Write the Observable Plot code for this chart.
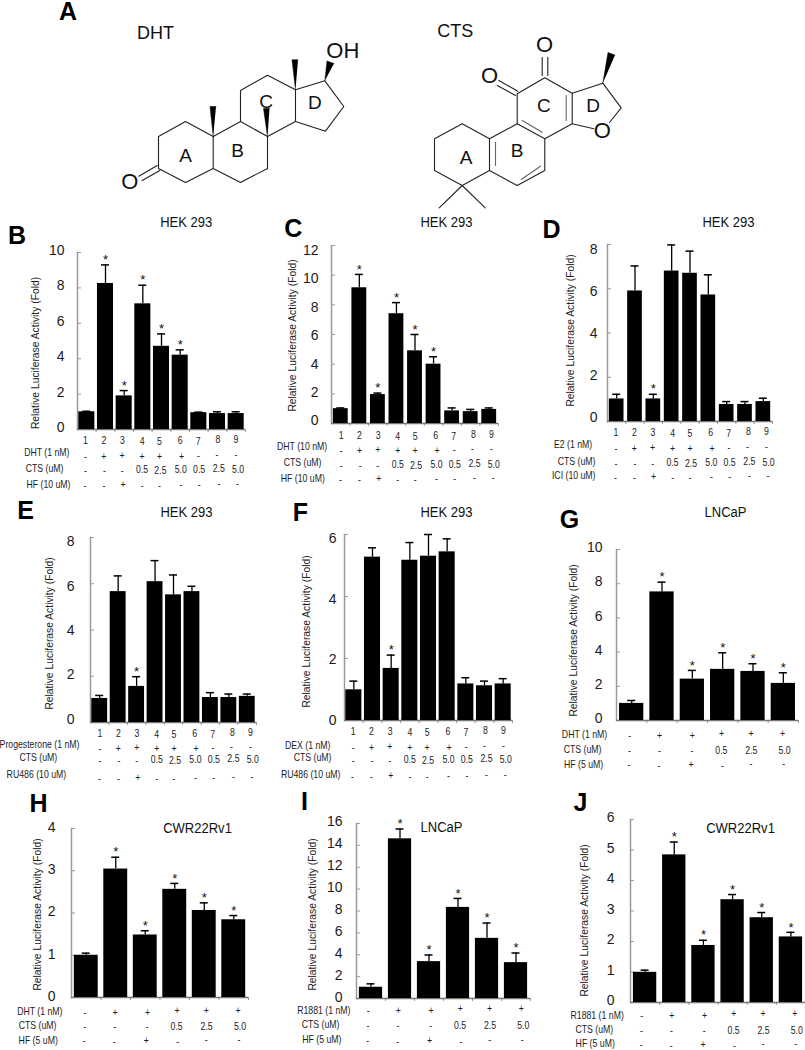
<!DOCTYPE html>
<html><head><meta charset="utf-8">
<script src="https://cdn.jsdelivr.net/npm/d3@7"></script>
<script src="https://cdn.jsdelivr.net/npm/@observablehq/plot@0.6"></script>
<style>
html,body{margin:0;padding:0;background:#fff}
#page{position:relative;width:805px;height:1050px;overflow:hidden}
#page svg{position:absolute}
</style></head><body><div id="page"></div>
<script>
// ---------- data ----------
const barsB = [1, 8.25, 1.9, 7.1, 4.7, 4.2, 0.95, 0.9, 0.9];
const errsB = [1.03, 9.3, 2.2, 8.15, 5.4, 4.5, 0.98, 1.0, 1.0];
const barsC = [1, 9.15, 1.95, 7.4, 4.9, 4.0, 0.85, 0.8, 0.95];
const errsC = [1.05, 10.05, 2.05, 8.15, 6.0, 4.5, 1.05, 0.95, 1.05];
const barsD = [1.02, 5.9, 1.02, 6.8, 6.7, 5.72, 0.77, 0.77, 0.9];
const errsD = [1.23, 7.03, 1.23, 7.98, 7.7, 6.63, 0.9, 0.9, 1.05];
const barsE = [1.04, 5.66, 1.56, 6.09, 5.52, 5.66, 1.08, 1.08, 1.13];
const errsE = [1.17, 6.34, 1.98, 7.0, 6.38, 5.89, 1.29, 1.23, 1.23];
const barsF = [0.99, 5.27, 1.68, 5.17, 5.3, 5.44, 1.18, 1.12, 1.18];
const errsF = [1.27, 5.57, 2.11, 5.74, 6.0, 5.86, 1.38, 1.27, 1.35];
const barsG = [1.0, 7.52, 2.42, 2.99, 2.87, 2.17];
const errsG = [1.17, 8.09, 2.93, 3.96, 3.32, 2.79];
const barsH = [1.0, 3.04, 1.48, 2.56, 2.06, 1.84];
const errsH = [1.05, 3.32, 1.58, 2.7, 2.24, 1.94];
const barsI = [1.03, 14.6, 3.37, 8.33, 5.5, 3.28];
const errsI = [1.34, 15.5, 3.98, 9.15, 6.9, 4.16];
const barsJ = [0.99, 4.84, 1.87, 3.37, 2.78, 2.15];
const errsJ = [1.06, 5.26, 2.04, 3.54, 2.95, 2.3];

const numbers9 = ["1","2","3","4","5","6","7","8","9"];
const agonist9 = ["-","+","+","+","+","+","-","-","-"];
const cts9 = ["-","-","-","0.5","2.5","5.0","0.5","2.5","5.0"];
const anti9 = ["-","-","+","-","-","-","-","-","-"];
const agonist6 = ["-","+","+","+","+","+"];
const cts6 = ["-","-","-","0.5","2.5","5.0"];
const anti6 = ["-","-","+","-","-","-"];
const yLabel = "Relative Luciferase Activity (Fold)";

const panels = [
 {bars:barsB,errs:errsB,left:0,axisX:77,right:245,y0:429,yTop:252,yMax:10,step:2,stars:[2,3,4,5,6],pad:.14,
  names:["DHT (1 nM)","CTS (uM)","HF (10 uM)"],nameR:[69,63,70],nameY:[23,39.5,55],cellY:[26,40.5,55],numY:10.7,colStart:-1.7,
  lab:[-13,-2.3,-1.7],yl:[35,352.5]},
 {bars:barsC,errs:errsC,left:265,axisX:331,right:498,y0:423,yTop:245,yMax:12,step:2,stars:[2,3,4,5,6],pad:.2,
  names:["DHT (10 nM)","CTS (uM)","HF (10 uM)"],nameR:[326.7,321,324.3],nameY:[23.3,39,55],cellY:[26,40.7,55],numY:11.7,colStart:0,
  lab:[-13,5,-2.7],yl:[292,335]},
 {bars:barsD,errs:errsD,left:535,axisX:607,right:772,y0:421,yTop:244,yMax:8,step:2,stars:[3],pad:.2,
  names:["E2 (1 nM)","CTS (uM)","ICI (10 uM)"],nameR:[591.7,595,595],nameY:[23,40,54],cellY:[26,41.3,55],numY:11,colStart:-1,
  lab:[-10,5,-4],yl:[570,330]},
 {bars:barsE,errs:errsE,left:0,axisX:90,right:256,y0:722,yTop:537,yMax:8,step:2,stars:[3],pad:.14,
  names:["Progesterone (1 nM)","CTS (uM)","RU486 (10 uM)"],nameR:[79,56.7,65.7],nameY:[22,35,52.3],cellY:[24.7,37.3,54.7],numY:10.7,colStart:0,
  lab:[-16,4.3,-3.3],yl:[49,633]},
 {bars:barsF,errs:errsF,left:265,axisX:344,right:512,y0:720,yTop:534,yMax:6,step:2,stars:[3],pad:.14,
  names:["DEX (1 nM)","CTS (uM)","RU486 (10 uM)"],nameR:[330,331,340],nameY:[25,36.7,54.3],cellY:[25.7,39.3,55],numY:10.7,colStart:-1,
  lab:[-8,4,0],yl:[306,631]},
 {bars:barsG,errs:errsG,left:535,axisX:616,right:798,y0:720,yTop:549,yMax:10,step:2,stars:[2,3,4,5,6],pad:.2,
  names:["DHT (1 nM)","CTS (uM)","HF (5 uM)"],nameR:[606.7,601,602.7],nameY:[14.3,29,44.3],cellY:[14.3,30,44],colStart:-2,
  lab:[-14,-1.7,-1.7],yl:[573,640]},
 {bars:barsH,errs:errsH,left:0,axisX:71,right:248,y0:997,yTop:828,yMax:4,step:1,stars:[2,3,4,5,6],pad:.19,
  names:["DHT (1 nM)","CTS (uM)","HF (5 uM)"],nameR:[62,56,57.3],nameY:[14,28.3,43.3],cellY:[14,29,43],colStart:-1.3,
  lab:[-16,-1,-1],yl:[37,914]},
 {bars:barsI,errs:errsI,left:265,axisX:356,right:530,y0:998,yTop:823,yMax:16,step:2,stars:[2,3,4,5,6],pad:.2,
  names:["R1881 (1 nM)","CTS (uM)","HF (5 uM)"],nameR:[350,339,341],nameY:[11.7,26,41.3],cellY:[11.5,27,42],colStart:-2.7,
  lab:[-14,-1.7,-1.3],yl:[312,914]},
 {bars:barsJ,errs:errsJ,left:535,axisX:630,right:805,y0:1002,yTop:819,yMax:6,step:1,stars:[2,3,4,5,6],pad:.2,
  names:["R1881 (1 nM)","CTS (uM)","HF (5 uM)"],nameR:[623.3,612.7,614.3],nameY:[12.7,26.7,41.5],cellY:[12,27.7,41.7],colStart:-3.3,
  lab:[-16,-1.7,-1.7],yl:[584,920]}
];

// column layout of the hand-placed treatment tables, px from first bar centre
const col9 = [[.3,18.7,37.3,57,74.3,95,113,132.7,150.7],[.3,18.7,37,57,74.3,96.3,113.3,131.7,150.7],
              [.3,19.3,37,57,75.3,95.7,114,133.7,153],[-.3,18.7,38,57,74.3,95.7,114,133.7,152.3]];
const jit9 = [[0,0,0,1,1,0,1,-1,-1],[1,1,0,1,1,1,0,-1,-1],[1,1,1,0,1,0,0,-1,0],[1,1,0,1,1,0,0,-1,-1]];
const col6 = [[0,30,62.7,92,121.3,153],[-.3,29.7,62.3,91.7,121.7,155],[-.7,29.3,61.3,92.7,121.3,154]];
const jit6 = [[1,1,1,-1,-1,-1],[0,0,0,0,0,0],[0,1,0,1,-1,-1]];

const FONT = "'Liberation Sans', Arial, sans-serif";
const GREY = "#9a9a9a", INK = "#1c1c1c";
const page = document.getElementById("page");

// the reference's small labels are horizontally squeezed
function squeeze(root, cls, factor) {
  root.querySelectorAll("." + cls + " text").forEach(t => {
    t.setAttribute("textLength", (t.getComputedTextLength() * factor).toFixed(2));
    t.setAttribute("lengthAdjust", "spacingAndGlyphs");
  });
}

// ---------- one Plot per bar panel ----------
for (const p of panels) {
  const n = p.bars.length, cats = d3.range(1, n + 1).map(String);
  const rows = n === 9 ? [numbers9, agonist9, cts9, anti9] : [agonist6, cts6, anti6];
  const cols = n === 9 ? col9 : col6, jits = n === 9 ? jit9 : jit6;
  const W = p.right - p.axisX, H = p.y0 - p.yTop, mT = 22, mB = Math.min(68, 1050 - p.y0), stepX = W / n, bw = stepX * (1 - p.pad);
  const unit = H / p.yMax;
  const data = cats.map((c, i) => ({c, v: p.bars[i], e: p.errs[i]}));
  const ticks = d3.range(0, p.yMax + 1e-6, p.step);
  const capInset = Math.max(0, (bw - 8) / 2);
  const rowYs = n === 9 ? [p.numY, ...p.cellY] : p.cellY;
  const cellMarks = rows.flatMap((row, r) => row.map((t, i) => Plot.text([{c: cats[i], t}], {
    x: "c", y: () => 0, text: "t", fontFamily: FONT, fontSize: 10.5, fill: INK, className: "squeezed",
    dx: p.colStart + cols[r][i] - i * stepX, dy: rowYs[r] + jits[r][i]
  })));
  const nameMarks = p.names.map((t, r) => Plot.text([t], {
    frameAnchor: "left", y: () => 0, text: d => d, textAnchor: "end", fontFamily: FONT, fontSize: 10.5, fill: INK, className: "squeezed",
    dx: p.nameR[r] - p.axisX, dy: p.nameY[r]
  }));
  const svg = Plot.plot({
    width: 270, height: H + mT + mB,
    marginLeft: p.axisX - p.left, marginRight: 270 - (p.right - p.left), marginTop: mT, marginBottom: mB,
    style: {background: "transparent", overflow: "visible"},
    x: {type: "band", domain: cats, axis: null, paddingInner: p.pad, paddingOuter: p.pad / 2, round: false, align: .5},
    y: {domain: [0, p.yMax], axis: null},
    marks: [
      Plot.frame({anchor: "left", stroke: GREY, strokeWidth: 1.5}),
      Plot.ruleY(ticks, {stroke: GREY, strokeWidth: 1, insetRight: W - 4}),
      Plot.ruleX(cats, {x: d => d, y1: () => 0, y2: () => -3 / unit, dx: stepX / 2, stroke: GREY, strokeWidth: 1}),
      Plot.ruleY([0], {stroke: "#777", strokeWidth: 1.5}),
      Plot.ruleX(data, {x: "c", y1: "v", y2: "e", stroke: "#000", strokeWidth: 1.3}),
      Plot.tickY(data, {x: "c", y: "e", stroke: "#000", strokeWidth: 1.5, insetLeft: capInset, insetRight: capInset}),
      Plot.barY(data, {x: "c", y: "v", fill: "#000"}),
      Plot.text(data.filter((d, i) => p.stars.includes(i + 1)), {x: "c", y: "e", text: () => "*", dy: -5, fontSize: 13, fontFamily: FONT, fill: "#111"}),
      Plot.text(ticks, {
        frameAnchor: "left", y: t => t - (p.lab[2] + (p.lab[1] - p.lab[2]) * t / p.yMax) / unit, text: d => String(d),
        textAnchor: "end", dx: p.lab[0], fontSize: 14, fontFamily: FONT, fill: INK
      }),
      Plot.text([yLabel], {
        frameAnchor: "left", textAnchor: "middle", text: d => d, rotate: -90, fontSize: 10.3, fontFamily: FONT, fill: "#222",
        dx: p.yl[0] - p.axisX, dy: p.yl[1] - (p.y0 + p.yTop) / 2
      }),
      ...cellMarks, ...nameMarks
    ]
  });
  svg.style.left = p.left + "px";
  svg.style.top = (p.yTop - mT) + "px";
  page.appendChild(svg);
  squeeze(svg, "squeezed", 0.83);
}

// ---------- panel letters, cell-line titles, molecules ----------
const letters = [["A",67.5,11],["B",16.5,235],["C",292.7,228],["D",551,229],["E",25,510],["F",300,512],["G",569,519],["H",38,803],["I",304,801],["J",580,802]];
const titles = [["HEK 293",185.7,222],["HEK 293",446,222],["HEK 293",728,222],["HEK 293",186,512],["HEK 293",446,512],["LNCaP",725,512],["CWR22Rv1",197,828],["LNCaP",441,827],["CWR22Rv1",740,828]];
const chemLabels = [["DHT",155,33,18],["CTS",454.7,31,18],
 ["A",185,155,19],["B",237,150.7,19],["C",265.7,101,19],["D",314.3,102.7,19],["O",129.3,181.7,22],["OH",342.3,50,22],
 ["A",465.7,157.3,19],["B",516.7,150.7,19],["C",543.3,105.3,19],["D",592.7,105.3,19],["O",489,75.7,22],["O",544,44.3,22],["O",601.7,130.7,22]];
const bondPaths = [
 // DHT
 [[158,168],[158,136],[185,121],[212.7,136],[212.7,168],[185,182],[158,168]],
 [[212.7,136],[240,121],[267,136],[267,168],[240,182],[212.7,168]],
 [[240,121],[240,90],[267,74.7],[295,89.3],[295,121],[267,136]],
 [[295,89.3],[324.3,80.3],[343.3,106],[325,130.7],[295,121]],
 [[159.3,170],[141.7,180]],[[156.7,165],[138.3,175.7]],
 // CTS
 [[461.7,123.3],[434,138.3],[434,170],[461.7,185],[489,170],[489,138.3],[461.7,123.3]],
 [[489,138.3],[516.7,123.3],[544.3,138.3],[544.3,170],[516.7,185],[489,170]],
 [[516.7,123.3],[516.7,93.3],[544.3,77.3],[571.7,92.7],[571.7,123.3],[544.3,138.3]],
 [[571.7,92.7],[602.3,82.7],[620.7,107.3],[609,122]],
 [[571.7,123.3],[593.3,128.3]],
 [[461.7,185],[438.7,207.3]],[[461.7,185],[484.7,207.3]],
 [[541.7,75],[541.7,57]],[[547.3,75],[547.3,57]],
 [[517.3,90.7],[498.3,80]],[[515,95],[496.7,85]]
];
const innerBonds = [[[495,141.7],[495,165]],[[521.7,120],[541.7,131.7]],[[520.7,179],[540,165.7]],[[565.7,95],[565.7,120]]];
const wedges = [
 [[212.7,136],[209.5,106],[215.5,106]],[[267,136],[263,108],[269,108]],[[295,89.3],[291.5,59.3],[297.5,59.3]],
 [[324.3,80.3],[326.5,60.5],[333.5,63]],[[602.3,82.7],[607.5,52],[614.5,54.5]]
];
const toPts = list => list.flatMap((path, k) => path.map(([x, y]) => ({x, y, k})));
const overlay = Plot.plot({
  width: 805, height: 1050, margin: 0,
  style: {background: "transparent", overflow: "visible"},
  x: {domain: [0, 805], range: [0, 805], axis: null},
  y: {domain: [0, 1050], range: [0, 1050], axis: null},
  marks: [
    Plot.line(toPts(bondPaths), {x: "x", y: "y", z: "k", stroke: "#222", strokeWidth: 1.1, curve: "linear"}),
    Plot.line(toPts(innerBonds), {x: "x", y: "y", z: "k", stroke: "#666", strokeWidth: 1.1}),
    Plot.line(toPts(wedges), {x: "x", y: "y", z: "k", fill: "#000", stroke: "#000", strokeWidth: .5}),
    Plot.text(chemLabels, {x: d => d[1], y: d => d[2], text: d => d[0], fontFamily: FONT, fontSize: d => d[3], fill: "#111"}),
    Plot.text(letters, {x: d => d[1], y: d => d[2], text: d => d[0], fontFamily: FONT, fontWeight: "bold", fontSize: 25, fill: "#000"}),
    Plot.text(titles, {x: d => d[1], y: d => d[2], text: d => d[0], fontFamily: FONT, fontSize: 14, fill: "#111", className: "titles"})
  ]
});
overlay.style.left = "0px"; overlay.style.top = "0px";
page.appendChild(overlay);
squeeze(overlay, "titles", 0.93);
</script></body></html>
